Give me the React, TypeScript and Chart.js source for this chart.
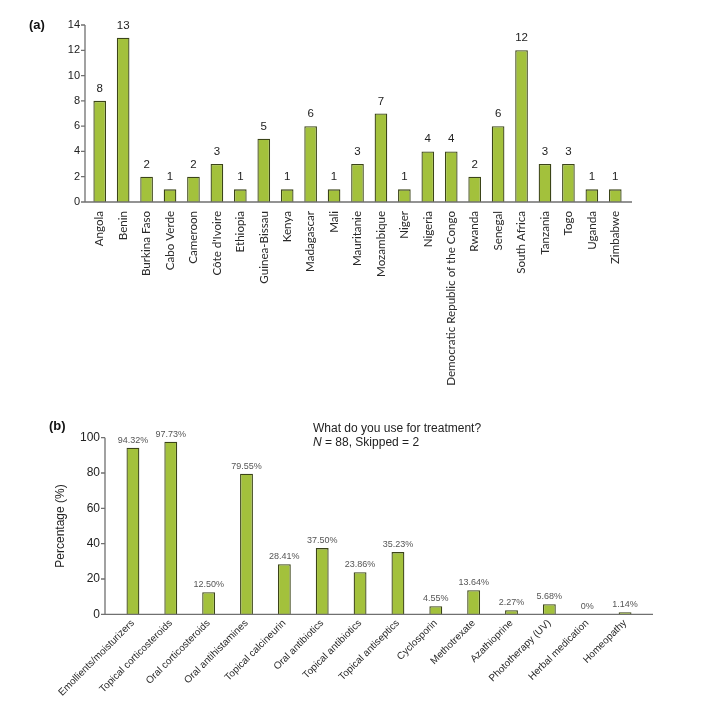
import React, { useEffect, useRef } from "react";
import { Chart, registerables } from "chart.js";

Chart.register(...registerables);

// ---------- Data ----------
const countries = [
  "Angola", "Benin", "Burkina Faso", "Cabo Verde", "Cameroon", "Côte d'Ivoire",
  "Ethiopia", "Guinea-Bissau", "Kenya", "Madagascar", "Mali", "Mauritanie",
  "Mozambique", "Niger", "Nigeria", "Democratic Republic of the Congo", "Rwanda",
  "Senegal", "South Africa", "Tanzania", "Togo", "Uganda", "Zimbabwe",
];
const countryCounts = [8, 13, 2, 1, 2, 3, 1, 5, 1, 6, 1, 3, 7, 1, 4, 4, 2, 6, 12, 3, 3, 1, 1];
const countryMax = 14;
const countryStep = 2;

const treatments = [
  "Emollients/moisturizers", "Topical corticosteroids", "Oral corticosteroids",
  "Oral antihistamines", "Topical calcineurin", "Oral antibiotics",
  "Topical antibiotics", "Topical antiseptics", "Cyclosporin", "Methotrexate",
  "Azathioprine", "Phototherapy (UV)", "Herbal medication", "Homeopathy",
];
const treatmentPct = [94.32, 97.73, 12.5, 79.55, 28.41, 37.5, 23.86, 35.23, 4.55, 13.64, 2.27, 5.68, 0, 1.14];
const treatmentPctLabels = [
  "94.32%", "97.73%", "12.50%", "79.55%", "28.41%", "37.50%", "23.86%",
  "35.23%", "4.55%", "13.64%", "2.27%", "5.68%", "0%", "1.14%",
];
const pctMax = 100;
const pctStep = 20;

// ---------- Style ----------
const BAR_FILL = "#a3c13c";
const BAR_EDGE = "#3b4418";
const AXIS = "#707070";
const SANS = "'Liberation Sans', Arial, Helvetica, sans-serif";

function axesPlugin(extL: number, extR: number, tickLen: number) {
  return {
    id: "customAxes",
    afterDraw(chart: any) {
      const { ctx, chartArea } = chart;
      const { left, right, top, bottom } = chartArea;
      const y = chart.scales.y;
      const ax = left - extL;
      ctx.save();
      ctx.strokeStyle = AXIS;
      ctx.lineWidth = 1.3;
      ctx.beginPath();
      ctx.moveTo(ax, top);
      ctx.lineTo(ax, bottom);
      ctx.moveTo(ax, bottom);
      ctx.lineTo(right + extR, bottom);
      y.ticks.forEach((t: any) => {
        const py = y.getPixelForValue(t.value);
        ctx.moveTo(ax - tickLen, py);
        ctx.lineTo(ax, py);
      });
      ctx.stroke();
      ctx.restore();
    },
  };
}

function valueLabelsPlugin(texts: string[], font: string, color: string, gap: number) {
  return {
    id: "valueLabels",
    afterDatasetsDraw(chart: any) {
      const { ctx } = chart;
      const meta = chart.getDatasetMeta(0);
      ctx.save();
      ctx.font = font;
      ctx.fillStyle = color;
      ctx.textAlign = "center";
      ctx.textBaseline = "alphabetic";
      meta.data.forEach((bar: any, i: number) => {
        ctx.fillText(texts[i], bar.x, bar.y - gap);
      });
      ctx.restore();
    },
  };
}

function CountryChart() {
  const ref = useRef<HTMLCanvasElement | null>(null);
  useEffect(() => {
    if (!ref.current) return;
    const chart = new Chart(ref.current, {
      type: "bar",
      data: {
        labels: countries,
        datasets: [
          {
            data: countryCounts,
            backgroundColor: BAR_FILL,
            borderColor: BAR_EDGE,
            borderWidth: 1.3,
            barPercentage: 0.54,
            categoryPercentage: 1,
          },
        ],
      },
      options: {
        responsive: false,
        animation: false,
        layout: { padding: { left: 48, right: 82, top: 25, bottom: 8 } },
        plugins: { legend: { display: false }, tooltip: { enabled: false } },
        scales: {
          x: {
            grid: { display: false, drawTicks: false },
            border: { display: false },
            ticks: {
              minRotation: 90,
              maxRotation: 90,
              autoSkip: false,
              padding: 9,
              color: "#2a2a2a",
              font: { family: "Lato, 'Open Sans', sans-serif", size: 11.6 },
            },
            afterFit: (s: any) => {
              s.height = 210;
            },
          },
          y: {
            min: 0,
            max: countryMax,
            grid: { display: false, drawTicks: false },
            border: { display: false },
            ticks: {
              stepSize: countryStep,
              padding: 8,
              color: "#222",
              font: { family: SANS, size: 11 },
            },
            afterFit: (s: any) => {
              s.width = 40;
            },
          },
        },
      },
      plugins: [
        axesPlugin(3, 5, 4),
        valueLabelsPlugin(countryCounts.map(String), `11.5px ${SANS}`, "#222", 9),
      ],
    });
    return () => chart.destroy();
  }, []);
  return <canvas ref={ref} width={709} height={420} style={{ position: "absolute", left: 0, top: 0, width: 709, height: 420 }} />;
}

function TreatmentChart() {
  const ref = useRef<HTMLCanvasElement | null>(null);
  useEffect(() => {
    if (!ref.current) return;
    const chart = new Chart(ref.current, {
      type: "bar",
      data: {
        labels: treatments,
        datasets: [
          {
            data: treatmentPct,
            backgroundColor: BAR_FILL,
            borderColor: BAR_EDGE,
            borderWidth: 1.3,
            barPercentage: 0.34,
            categoryPercentage: 1,
          },
        ],
      },
      options: {
        responsive: false,
        animation: false,
        layout: { padding: { left: 45, right: 65, top: 37.7, bottom: 5.7 } },
        plugins: { legend: { display: false }, tooltip: { enabled: false } },
        scales: {
          x: {
            grid: { display: false, drawTicks: false },
            border: { display: false },
            ticks: {
              minRotation: 45,
              maxRotation: 45,
              autoSkip: false,
              padding: 3,
              color: "#2a2a2a",
              font: { family: SANS, size: 10 },
            },
            afterFit: (s: any) => {
              s.height = 90;
            },
          },
          y: {
            min: 0,
            max: pctMax,
            grid: { display: false, drawTicks: false },
            border: { display: false },
            title: {
              display: true,
              text: "Percentage (%)",
              color: "#222",
              padding: 8,
              font: { family: SANS, size: 12 },
            },
            ticks: {
              stepSize: pctStep,
              padding: 14,
              color: "#222",
              font: { family: SANS, size: 12 },
            },
            afterFit: (s: any) => {
              s.width = 69;
            },
          },
        },
      },
      plugins: [
        axesPlugin(9, 9, 4),
        valueLabelsPlugin(treatmentPctLabels, `9px ${SANS}`, "#555", 5),
      ],
    });
    return () => chart.destroy();
  }, []);
  return <canvas ref={ref} width={709} height={310} style={{ position: "absolute", left: 0, top: 400, width: 709, height: 310 }} />;
}

export default function App() {
  return (
    <div style={{ position: "fixed", left: 0, top: 0, width: 709, height: 710, background: "#fff", overflow: "hidden" }}>
      <CountryChart />
      <TreatmentChart />
      <div style={{ position: "absolute", left: 29, top: 17, font: `bold 13px ${SANS}`, color: "#111", lineHeight: "16px" }}>(a)</div>
      <div style={{ position: "absolute", left: 49, top: 418, font: `bold 13px ${SANS}`, color: "#111", lineHeight: "16px" }}>(b)</div>
      <div style={{ position: "absolute", left: 313, top: 422, font: `12px ${SANS}`, color: "#222", lineHeight: "13.5px", whiteSpace: "nowrap" }}>
        <div>What do you use for treatment?</div>
        <div><i>N</i> = 88, Skipped = 2</div>
      </div>
    </div>
  );
}
